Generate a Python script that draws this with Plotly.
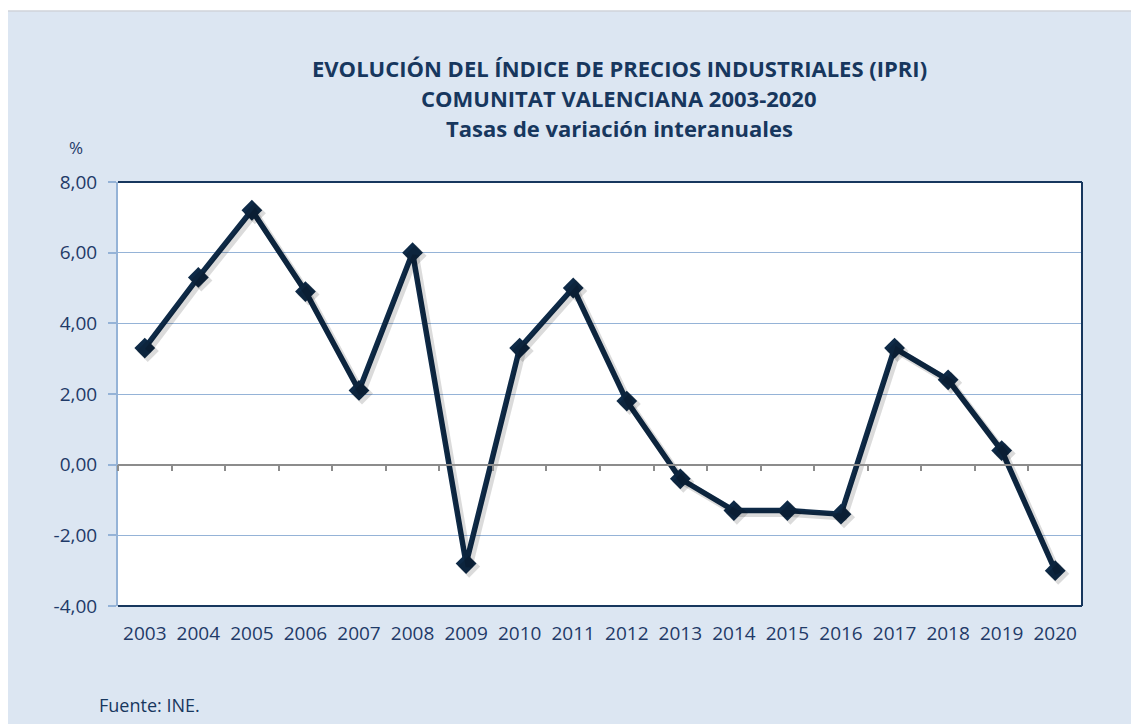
import plotly.graph_objects as go

years = ["2003", "2004", "2005", "2006", "2007", "2008", "2009", "2010", "2011",
         "2012", "2013", "2014", "2015", "2016", "2017", "2018", "2019", "2020"]
ipri = [3.3, 5.3, 7.2, 4.9, 2.1, 6.0, -2.8, 3.3, 5.0,
        1.8, -0.4, -1.3, -1.3, -1.4, 3.3, 2.4, 0.4, -3.0]
y_ticks = [-4, -2, 0, 2, 4, 6, 8]
y_tick_labels = ["-4,00", "-2,00", "0,00", "2,00", "4,00", "6,00", "8,00"]
title_lines = ["EVOLUCIÓN DEL ÍNDICE DE PRECIOS INDUSTRIALES (IPRI)",
               "COMUNITAT VALENCIANA 2003-2020",
               "Tasas de variación interanuales"]

OFF = 8  # page body margin
W, H = 1139 - OFF, 724 - OFF
L, R, T, B = 118 - OFF, 1082 - OFF, 182 - OFF, 606 - OFF
pw, ph = R - L, B - T

def px(x):  # absolute screen x -> paper
    return (x - OFF - L) / pw

def py(y):  # absolute screen y -> paper
    return (B - (y - OFF)) / ph

NAVY = "#0E2A47"
TXT = "#1F3A68"
TITLE = "#17375E"
GRID = "#95B3D7"
BG = "#DCE6F2"
FONT = "Open Sans"

ymin, ymax = y_ticks[0], y_ticks[-1]
n = len(years)
dy = 3 / (ph / (ymax - ymin))
dx = 3 / (pw / n)

fig = go.Figure()
# soft shadow (same data on shifted hidden axes)
fig.add_trace(go.Scatter(x=years, y=ipri, xaxis="x3", yaxis="y3", mode="lines+markers",
                         line=dict(color="rgba(0,0,0,0.14)", width=7),
                         marker=dict(symbol="diamond", size=17, color="rgba(0,0,0,0.14)"),
                         hoverinfo="skip", showlegend=False))
# zero axis with ticks
fig.add_trace(go.Scatter(x=years, y=ipri, xaxis="x2", yaxis="y", mode="lines",
                         line=dict(width=0), opacity=0, hoverinfo="skip", showlegend=False))
fig.add_trace(go.Scatter(x=years, y=ipri, mode="lines+markers",
                         line=dict(color=NAVY, width=5.5),
                         marker=dict(symbol="diamond", size=16, color=NAVY),
                         showlegend=False))

fig.update_layout(
    width=W, height=H,
    margin=dict(l=L, r=W - R, t=T, b=H - B),
    paper_bgcolor=BG, plot_bgcolor="white",
    separators=",.",
    font=dict(family=FONT, color=TXT, size=19),
    xaxis=dict(type="category", range=[-0.5, n - 0.5], showgrid=False, ticks="",
               showline=False, tickfont=dict(size=19, color=TXT), ticklabelstandoff=14),
    xaxis2=dict(type="category", range=[-0.5, n - 0.5], overlaying="x", anchor="free",
                position=(0 - ymin) / (ymax - ymin), showgrid=False, showticklabels=False,
                showline=True, linecolor="#8C8C8C", linewidth=1.5,
                ticks="outside", tickson="boundaries", ticklen=6, tickcolor="#8C8C8C", tickwidth=1.5),
    xaxis3=dict(type="category", range=[-0.5 - dx, n - 0.5 - dx], overlaying="x", visible=False),
    yaxis=dict(range=[ymin, ymax], tickvals=y_ticks, ticktext=y_tick_labels,
               showgrid=True, gridcolor=GRID, gridwidth=1, zeroline=False,
               showline=True, linecolor=GRID, linewidth=2,
               ticks="outside", ticklen=8, tickcolor=GRID, tickwidth=1.5,
               tickfont=dict(size=19, color=TXT), ticklabelstandoff=7),
    yaxis3=dict(range=[ymin + dy, ymax + dy], overlaying="y", visible=False),
)

# frame: top, right, bottom
for x0, y0, x1, y1 in [(0, 1, 1, 1), (1, 0, 1, 1), (0, 0, 1, 0)]:
    fig.add_shape(type="line", xref="paper", yref="paper", x0=x0, y0=y0, x1=x1, y1=y1,
                  line=dict(color="#17375E", width=2))
# white strip above the panel + panel border
fig.add_shape(type="rect", xref="paper", yref="paper", x0=px(0), x1=px(1150), y0=py(11), y1=py(0),
              fillcolor="white", line=dict(width=0), layer="below")
fig.add_shape(type="rect", xref="paper", yref="paper", x0=px(7), x1=px(1150), y0=py(740), y1=py(11),
              fillcolor="rgba(0,0,0,0)", line=dict(color="#D0D4DA", width=1.5))

for i, line in enumerate(title_lines):
    fig.add_annotation(xref="paper", yref="paper", x=px(619), y=py(68 + 30 * i),
                       xanchor="center", yanchor="middle", text="<b>" + line + "</b>",
                       showarrow=False, font=dict(family=FONT, size=22, color=TITLE))
fig.add_annotation(xref="paper", yref="paper", x=px(76), y=py(147), xanchor="center", yanchor="middle",
                   text="%", showarrow=False, font=dict(family=FONT, size=17, color=TXT))
fig.add_annotation(xref="paper", yref="paper", x=px(97), y=py(705), xanchor="left", yanchor="middle",
                   text="Fuente: INE.", showarrow=False, font=dict(family=FONT, size=18, color="#17375E"))

fig.write_html("out.html")
